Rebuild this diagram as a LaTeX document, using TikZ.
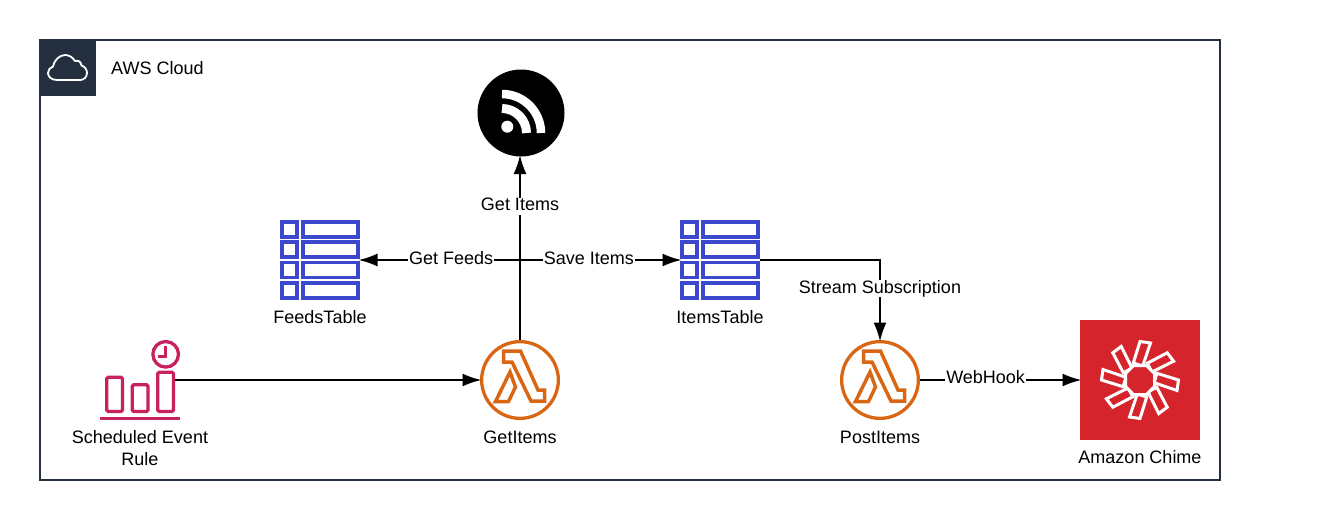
\documentclass[tikz,border=0pt]{standalone}
\usepackage{fontspec}
\setmainfont{Liberation Sans}
\usetikzlibrary{arrows.meta, calc}

\definecolor{awsnavy}{HTML}{232F3E}
\definecolor{awsorange}{HTML}{D86613}
\definecolor{awsblue}{HTML}{3B48CC}
\definecolor{awspink}{HTML}{C7215F}
\definecolor{chimered}{HTML}{D6242D}

\tikzset{
	>={Latex[length=19pt, width=13pt]},
	wire/.style={draw=black, line width=2pt, ->, shorten >=-1.5pt},
	caption/.style={font=\fontsize{18}{22}\selectfont, align=center, inner sep=0pt, text height=13pt, text depth=4pt},
	edgelabel/.style={caption, fill=white, inner xsep=1pt},
	lambdanode/.style={circle, draw=awsorange, line width=3.3pt, minimum size=76.7pt, inner sep=0pt},
	iconnode/.style={rectangle, inner sep=0pt, outer sep=0pt, minimum width=#1, minimum height=80pt},
	iconline/.style={line width=3.5pt, line join=round},
	lambdapic/.pic={
		\draw[iconline, draw=awsorange, line join=miter]
			(-16.5,-29) -- (0.5,-29) -- (18,10) -- (24.5,10) -- (24.5,21) -- (11,21)
			-- (-8,-18) -- (-16.5,-18) -- cycle;
		\draw[iconline, draw=awsorange, line join=miter]
			(-10,-8) -- (-4.5,7) -- (-11.5,21.5) -- (-24.5,21.5) -- cycle;
	},
	tablepic/.pic={
		\foreach \row in {0,1,2,3} {
			\draw[awsblue, line width=3.6pt]
				(-38.2,{-38.2+20.3*\row}) rectangle ++(15.2,15);
			\draw[awsblue, line width=3.6pt]
				(-17.2,{-38.2+20.3*\row}) rectangle ++(55.4,15);
		}
	}
}

\begin{document}
\begin{tikzpicture}[x=1pt, y=-1pt]
	\useasboundingbox (0,0) rectangle (1331,520);

	% frame and its header
	\node[draw=awsnavy, line width=2pt, minimum width=1180pt, minimum height=440pt, outer sep=0pt] (cloudframe) at (630,260) {};
	\node[fill=awsnavy, minimum size=56pt, inner sep=0pt, outer sep=0pt] (cloudtab) at (68,68) {};
	\draw[white, line width=1.8pt, line join=round]
		(57,80) .. controls (51,80) and (48,76.5) .. (48,73)
		.. controls (48,70) and (50,67.5) .. (53,66.5)
		.. controls (54,60) and (60,55) .. (65,55)
		.. controls (70,55) and (73,58) .. (75,61)
		.. controls (78,60) and (81,61.5) .. (81.5,65.5)
		.. controls (85,66.5) and (87,70) .. (87,73)
		.. controls (87,77) and (84,80) .. (80,80) -- cycle;
	\node[caption, anchor=west] (cloudname) at (111,70) {AWS Cloud};

	% feed
	\node[circle, fill=black, minimum size=87pt, inner sep=0pt, outer sep=0pt] (rss) at (521,113) {};
	\fill[white] (507.3,126.7) circle (6);
	\draw[white, line width=8.5pt] (502,94) .. controls (523.5,94) and (541,111.5) .. (541,133);
	\draw[white, line width=9pt] (502,108.5) .. controls (515.5,108.5) and (526.5,119.5) .. (526.5,133);

	% tables
	\node[iconnode=80pt] (feeds) at (320,260) {};
	\pic at (feeds) {tablepic};
	\node[caption] (feedsname) at (320,319) {FeedsTable};
	\node[iconnode=80pt] (items) at (720,260) {};
	\pic at (items) {tablepic};
	\node[caption] (itemsname) at (720,319) {ItemsTable};

	% event rule
	\node[iconnode=70pt] (event) at (140,380) {};
	\draw[awspink, line width=3.3pt, rounded corners=1.5pt]
		(106.7,377.3) rectangle (122.5,411.5)
		(132.3,384.7) rectangle (148,411.5)
		(157.7,372.3) rectangle (173.5,411.5);
	\draw[awspink, line width=3.5pt] (100,418.3) -- (180,418.3);
	\draw[awspink, line width=3.3pt] (165.7,354.3) circle (12.8);
	\draw[awspink, line width=2.5pt] (165.7,346) -- (165.7,356.7) -- (158.3,356.7);
	\node[caption, text height=, text depth=] (eventname) at (140,448) {Scheduled Event\\Rule};

	% functions
	\node[lambdanode] (getitems) at (520,380) {};
	\pic at (getitems) {lambdapic};
	\node[caption] (getitemsname) at (520,439) {GetItems};
	\node[lambdanode] (postitems) at (880,380) {};
	\pic at (postitems) {lambdapic};
	\node[caption] (postitemsname) at (880,439) {PostItems};

	% chime
	\node[fill=chimered, minimum size=120pt, inner sep=0pt, outer sep=0pt] (chime) at (1140,380) {};
	\begin{scope}[shift={(chime.center)}]
		\foreach \a in {0,45,...,315} {
			\draw[white, line width=3pt, line join=miter, rotate=\a]
				(0,-38.5) -- (10.5,-37) -- (2.7,-14) -- (-6.7,-17) -- cycle;
		}
		\draw[white, line width=3pt, fill=chimered]
			(-6.5,-14.5) -- (6.5,-14.5) -- (14.5,-6.5) -- (14.5,6.5) -- (6.5,14.5) -- (-6.5,14.5) -- (-14.5,6.5) -- (-14.5,-6.5) -- cycle;
	\end{scope}
	\node[caption] (chimename) at (1140,459) {Amazon Chime};

	% connectors
	\coordinate (fork) at (getitems.north |- feeds.east);
	\draw[wire] (event.east) -- (getitems.west);
	\draw[wire] (getitems.north) -- (getitems.north |- rss.south)
		node[edgelabel, pos=.728] (getlabel) {Get Items};
	\draw[wire] (fork) -- (feeds.east)
		node[edgelabel, pos=.43] (feedlabel) {Get Feeds};
	\draw[wire] (fork) -- (items.west)
		node[edgelabel, pos=.43] (savelabel) {Save Items};
	\draw[wire] (items.east) -| (postitems.north)
		node[edgelabel, pos=.681] (streamlabel) {Stream Subscription};
	\draw[wire] (postitems.east) -- (chime.west)
		node[edgelabel, pos=.41, yshift=1.5pt] (hooklabel) {WebHook};
\end{tikzpicture}
\end{document}
